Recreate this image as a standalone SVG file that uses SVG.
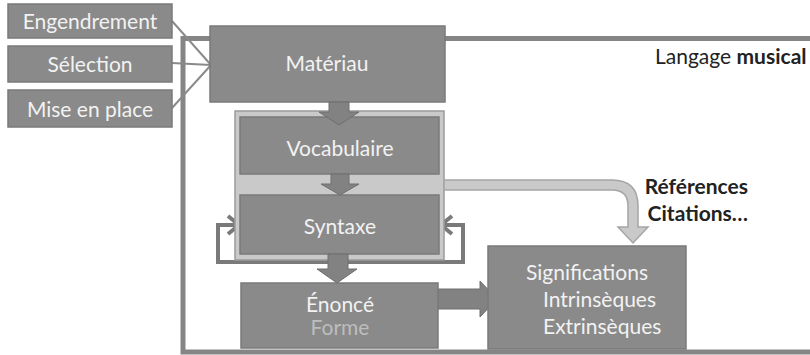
<svg xmlns="http://www.w3.org/2000/svg" width="810" height="355" viewBox="0 0 810 355">
<defs>
<style>
.box{fill:#8a8a8a;stroke:#7a7a7a;stroke-width:1.5}
.t{font-family:Lato,"Open Sans","Liberation Sans",sans-serif;fill:#f2f2f2;font-size:21px}
.blk{font-family:Lato,"Open Sans","Liberation Sans",sans-serif;fill:#222;font-size:21px}
.garrow{fill:#828282;stroke:#6e6e6e;stroke-width:1}
.line{stroke:#8a8a8a;stroke-width:2;fill:none}
</style>
</defs>
<rect width="810" height="355" fill="#ffffff"/>
<g id="frame">
<path d="M815,38.5 L183,38.5 L183,352 L815,352" fill="none" stroke="#858585" stroke-width="5"/>
<text class="blk" x="655" y="64">Langage <tspan font-weight="bold">musical</tspan></text>
</g>
<g id="connectors">
<line class="line" x1="172" y1="21" x2="211" y2="65"/>
<line class="line" x1="172" y1="63" x2="211" y2="65"/>
<line class="line" x1="172" y1="108" x2="211" y2="65"/>
<path d="M239,225 L218,225 L218,262 L463,262 L463,225 L441,225" fill="none" stroke="#7a7a7a" stroke-width="4"/>
<path d="M228,216 L239,225 L228,234" fill="none" stroke="#7a7a7a" stroke-width="4"/>
<path d="M452,216 L441,225 L452,234" fill="none" stroke="#7a7a7a" stroke-width="4"/>
</g>
<g id="engendrement"><rect class="box" x="8" y="4" width="164" height="34"/><text class="t" x="90" y="29" text-anchor="middle">Engendrement</text></g>
<g id="selection"><rect class="box" x="8" y="46" width="164" height="36"/><text class="t" x="90" y="72" text-anchor="middle">Sélection</text></g>
<g id="mise"><rect class="box" x="8" y="90" width="164" height="37"/><text class="t" x="90" y="117" text-anchor="middle">Mise en place</text></g>
<g id="materiau"><rect class="box" x="210" y="26" width="235" height="76"/><text class="t" x="327" y="71" text-anchor="middle" font-size="20">Matériau</text></g>
<g id="container"><rect x="235" y="111" width="209" height="149" fill="#c9c9c9" stroke="#9a9a9a" stroke-width="1.5"/></g>
<g id="ref-arrow">
<path d="M444,180 L612,180 Q638,180 638,206 L638,227 L648,227 L633,243 L618,227 L628,227 L628,206 Q628,190 612,190 L444,190 Z" fill="#c9c9c9" stroke="#a5a5a5" stroke-width="1.5"/>
</g>
<g id="vocabulaire"><rect class="box" x="240" y="117" width="199" height="57"/><text class="t" x="340" y="156" text-anchor="middle" font-size="20">Vocabulaire</text></g>
<g id="syntaxe"><rect class="box" x="240" y="195" width="199" height="59"/><text class="t" x="340" y="234" text-anchor="middle" font-size="20">Syntaxe</text></g>
<g id="arrows">
<path class="garrow" d="M329,102 L349,102 L349,112 L359,112 L339,125 L319,112 L329,112 Z"/>
<path class="garrow" d="M331,174 L349,174 L349,184 L359,184 L340,195 L321,184 L331,184 Z"/>
<path class="garrow" d="M328,254 L348,254 L348,269 L357,269 L337,283 L317,269 L328,269 Z"/>
<path class="garrow" d="M438,289 L480,289 L480,281 L497,299 L480,317 L480,309 L438,309 Z"/>
</g>
<g id="enonce"><rect class="box" x="241" y="283" width="197" height="65"/><text class="t" x="340" y="312" text-anchor="middle" font-size="20">Énoncé</text><text class="t" x="340" y="335" text-anchor="middle" font-size="19" style="fill:#bdbdbd">Forme</text></g>
<g id="significations"><rect class="box" x="488" y="246" width="198" height="103"/>
<text class="t" x="526" y="280" font-size="20">Significations</text>
<text class="t" x="543" y="307" font-size="20">Intrinsèques</text>
<text class="t" x="543" y="334" font-size="20">Extrinsèques</text></g>
<g id="labels">
<text class="blk" x="748" y="194" text-anchor="end" font-weight="bold">Références</text>
<text class="blk" x="748" y="221" text-anchor="end" font-weight="bold">Citations…</text>
</g>
</svg>
